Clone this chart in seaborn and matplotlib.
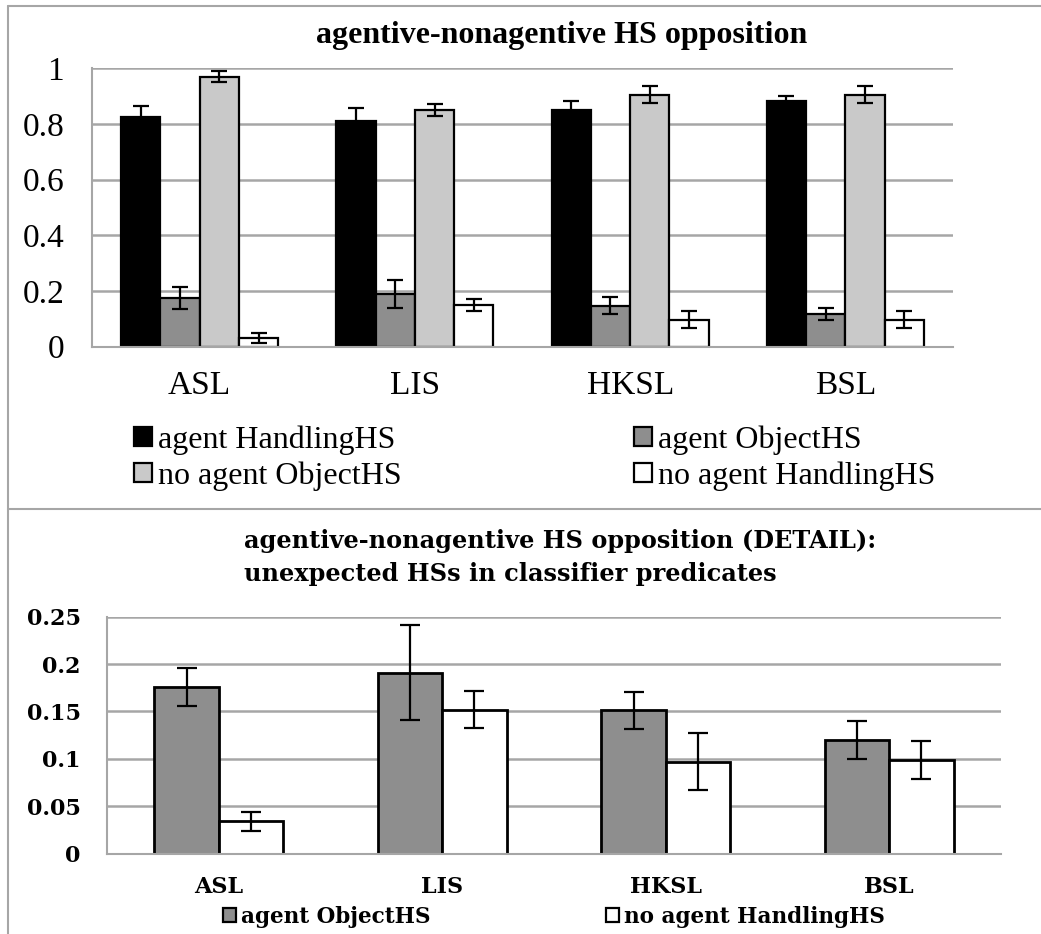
import numpy as np
import pandas as pd
import matplotlib
matplotlib.use("Agg")
import matplotlib.pyplot as plt
import seaborn as sns
from matplotlib.lines import Line2D
from matplotlib.patches import Patch

# ---------------- data ----------------
languages = ["ASL", "LIS", "HKSL", "BSL"]

top_series = ["agent HandlingHS", "agent ObjectHS", "no agent ObjectHS", "no agent HandlingHS"]
top_agent_handling = [0.826, 0.809, 0.851, 0.881]
top_agent_object = [0.174, 0.188, 0.147, 0.117]
top_noagent_object = [0.970, 0.850, 0.905, 0.905]
top_noagent_handling = [0.032, 0.149, 0.096, 0.096]
top_agent_handling_err = [0.038, 0.050, 0.030, 0.020]
top_agent_object_err = [0.040, 0.050, 0.030, 0.020]
top_noagent_object_err = [0.020, 0.020, 0.030, 0.030]
top_noagent_handling_err = [0.018, 0.020, 0.030, 0.030]

detail_series = ["agent ObjectHS", "no agent HandlingHS"]
detail_agent_object = [0.176, 0.191, 0.151, 0.120]
detail_noagent_handling = [0.034, 0.152, 0.097, 0.099]
detail_agent_object_err = [0.020, 0.050, 0.020, 0.020]
detail_noagent_handling_err = [0.010, 0.020, 0.030, 0.020]

top_title = "agentive-nonagentive HS opposition"
detail_title_1 = "agentive-nonagentive HS opposition (DETAIL):"
detail_title_2 = "unexpected HSs in classifier predicates"

colors = {
    "agent HandlingHS": "#000000",
    "agent ObjectHS": "#8e8e8e",
    "no agent ObjectHS": "#c9c9c9",
    "no agent HandlingHS": "#ffffff",
}

# ---------------- style ----------------
sns.set_style("white")
plt.rcParams["font.family"] = ["Liberation Serif", "DejaVu Serif"]
plt.rcParams["text.color"] = "black"
plt.rcParams["xtick.color"] = "black"
plt.rcParams["ytick.color"] = "black"
plt.rcParams["axes.labelcolor"] = "black"
GRID = "#a6a6a6"

W, H = 1041, 934
fig = plt.figure(figsize=(W / 100, H / 100), dpi=100)


def fx(px):
    return px / W


def fy(py):
    return 1 - py / H


def style_axis(ax, ylim, yticks, ylabels, font, fsize, weight, ypad, xpad):
    ax.set_xlim(-0.5, 3.5)
    ax.set_ylim(*ylim)
    ax.set_yticks(yticks)
    ax.set_yticklabels(ylabels, fontfamily=font, fontsize=fsize, fontweight=weight, color="black")
    ax.set_xticks(range(len(languages)))
    ax.set_xticklabels(languages, fontfamily=font, fontsize=fsize, fontweight=weight, color="black")
    ax.set_xticks([-0.5, 0.5, 1.5, 2.5, 3.5], minor=True)
    ax.tick_params(axis="x", which="major", length=0, pad=xpad)
    ax.tick_params(axis="x", which="minor", length=7, width=1.5, color=GRID, direction="out")
    ax.tick_params(axis="y", which="major", length=7, width=1.5, color=GRID,
                   direction="out", pad=ypad)
    ax.set_axisbelow(True)
    ax.yaxis.grid(True, color=GRID, lw=1.8)
    ax.xaxis.grid(False)
    for s in ["top", "right"]:
        ax.spines[s].set_visible(False)
    for s in ["left", "bottom"]:
        ax.spines[s].set_color(GRID)
        ax.spines[s].set_linewidth(1.5)
    ax.set_xlabel("")
    ax.set_ylabel("")


def add_errors(ax, errs, lw, cap):
    for cont, err in zip(ax.containers, errs):
        for bar, e in zip(cont, err):
            x = bar.get_x() + bar.get_width() / 2
            y = bar.get_height()
            ax.errorbar(x, y, yerr=e, fmt="none", ecolor="black",
                        elinewidth=lw, capsize=cap, capthick=lw, zorder=5)


# ---------------- top chart ----------------
ax1 = fig.add_axes([fx(92), fy(346.5), fx(953) - fx(92), fy(68.3) - fy(346.5)])
top_df = pd.DataFrame({
    "language": languages * 4,
    "series": sum([[s] * 4 for s in top_series], []),
    "value": top_agent_handling + top_agent_object + top_noagent_object + top_noagent_handling,
})
sns.barplot(data=top_df, x="language", y="value", hue="series", hue_order=top_series,
            order=languages, palette=colors, width=0.73, edgecolor="black", linewidth=1.6,
            errorbar=None, saturation=1, legend=False, ax=ax1)
add_errors(ax1, [top_agent_handling_err, top_agent_object_err,
                 top_noagent_object_err, top_noagent_handling_err], 1.6, 6)
style_axis(ax1, (0, 1), [0, 0.2, 0.4, 0.6, 0.8, 1.0],
           ["0", "0.2", "0.4", "0.6", "0.8", "1"], "Liberation Serif", 24, "normal", 13, 17)

fig.text(fx(562), fy(35), top_title, ha="center", va="center",
         fontfamily="Liberation Serif", fontweight="bold", fontsize=23)


def legend_col(handles_names, x, y, font, fsize, weight, spacing, hsize=0.55):
    hs = [Patch(facecolor=colors[n], edgecolor="black", linewidth=1.6) for n in handles_names]
    lg = fig.legend(hs, handles_names, loc="center left", bbox_to_anchor=(fx(x), fy(y)),
                    frameon=False, handlelength=hsize, handleheight=hsize, handletextpad=0.2,
                    borderpad=0, borderaxespad=0, labelspacing=spacing,
                    prop={"family": font, "size": fsize, "weight": weight})
    for t in lg.get_texts():
        t.set_color("black")
    return lg


legend_col(["agent HandlingHS", "no agent ObjectHS"], 134, 458, "Liberation Serif", 23, "normal", 0.2)
legend_col(["agent ObjectHS", "no agent HandlingHS"], 634, 458, "Liberation Serif", 23, "normal", 0.2)

# ---------------- detail chart ----------------
ax2 = fig.add_axes([fx(107), fy(853.5), fx(1001) - fx(107), fy(616.7) - fy(853.5)])
det_df = pd.DataFrame({
    "language": languages * 2,
    "series": sum([[s] * 4 for s in detail_series], []),
    "value": detail_agent_object + detail_noagent_handling,
})
sns.barplot(data=det_df, x="language", y="value", hue="series", hue_order=detail_series,
            order=languages, palette=colors, width=0.575, edgecolor="black", linewidth=2,
            errorbar=None, saturation=1, legend=False, ax=ax2)
add_errors(ax2, [detail_agent_object_err, detail_noagent_handling_err], 1.6, 7)
style_axis(ax2, (0, 0.25), [0, 0.05, 0.1, 0.15, 0.2, 0.25],
           ["0", "0.05", "0.1", "0.15", "0.2", "0.25"], "DejaVu Serif", 16, "bold", 12, 16)

fig.text(fx(244), fy(541), detail_title_1, ha="left", va="center",
         fontfamily="DejaVu Serif", fontweight="bold", fontsize=17.3)
fig.text(fx(244), fy(574), detail_title_2, ha="left", va="center",
         fontfamily="DejaVu Serif", fontweight="bold", fontsize=17.3)

legend_col(["agent ObjectHS"], 223, 917, "DejaVu Serif", 15.5, "bold", 0.2, 0.62)
legend_col(["no agent HandlingHS"], 606, 917, "DejaVu Serif", 15.5, "bold", 0.2, 0.62)

# ---------------- frame lines ----------------
fig.add_artist(Line2D([fx(8), fx(8)], [0, fy(5.5)], transform=fig.transFigure, color=GRID, lw=1.5))
fig.add_artist(Line2D([fx(8), 1], [fy(5.5), fy(5.5)], transform=fig.transFigure, color=GRID, lw=1.5))
fig.add_artist(Line2D([fx(8), 1], [fy(509), fy(509)], transform=fig.transFigure, color=GRID, lw=1.5))

fig.savefig("out.png", dpi=100)
